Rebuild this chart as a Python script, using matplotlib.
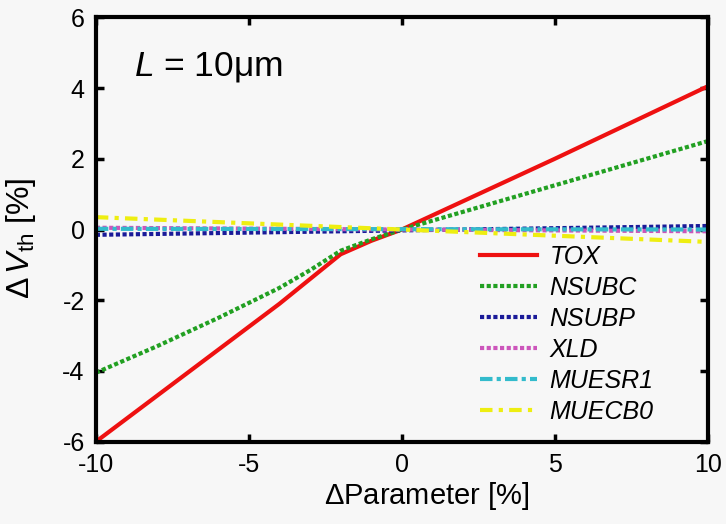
import matplotlib
matplotlib.use("Agg")
import matplotlib.pyplot as plt

plt.rcParams['font.family'] = ['Liberation Sans', 'DejaVu Sans']
plt.rcParams['mathtext.fontset'] = 'custom'
plt.rcParams['mathtext.rm'] = 'Liberation Sans'
plt.rcParams['mathtext.it'] = 'Liberation Sans:italic'
plt.rcParams['axes.unicode_minus'] = False

# data
x_pts = [-10, -8, -6, -4, -3, -2, -1, 0, 5, 10]
tox = [-6.0, -4.7, -3.4, -2.1, -1.4, -0.7, -0.32, 0.0, 2.0, 4.05]
nsubc = [-4.05, -3.3, -2.5, -1.65, -1.15, -0.6, -0.28, 0.0, 1.25, 2.5]
x_flat = [-10, 10]
nsubp = [-0.15, 0.1]
xld = [0.05, -0.05]
muesr1 = [0.02, 0.0]
muecb0 = [0.35, -0.35]

labels = ['TOX', 'NSUBC', 'NSUBP', 'XLD', 'MUESR1', 'MUECB0']

bg = '#f7f7f7'
fig = plt.figure(figsize=(7.26, 5.24), dpi=100, facecolor=bg)
ax = fig.add_axes([0.132, 0.157, 0.843, 0.81], facecolor=bg)

ax.plot(x_pts, tox, color='#ee1111', lw=3, ls='-', label=labels[0])
ax.plot(x_pts, nsubc, color='#22a022', lw=3, ls=(0, (1, 0.6)), label=labels[1])
ax.plot(x_flat, nsubp, color='#1a1a99', lw=3, ls=(0, (1, 0.6)), label=labels[2])
ax.plot(x_flat, xld, color='#cc55bb', lw=3, ls=(0, (1, 0.6)), label=labels[3])
ax.plot(x_flat, muesr1, color='#33bbcc', lw=3, ls=(0, (3, 1, 1, 1)), label=labels[4])
ax.plot(x_flat, muecb0, color='#eeee11', lw=3, ls=(0, (3, 1.5, 1, 1.5)), label=labels[5])

ax.set_xlim(-10, 10)
ax.set_ylim(-6, 6)
ax.set_xticks([-10, -5, 0, 5, 10])
ax.set_yticks([-6, -4, -2, 0, 2, 4, 6])
ax.tick_params(direction='in', length=6, width=2.5, labelsize=18, pad=8,
               top=True, right=True)
for s in ax.spines.values():
    s.set_linewidth(3)

ax.set_xlabel(r'$\Delta$Parameter [%]', fontsize=21, labelpad=2)
ax.xaxis.set_label_coords(0.54, -0.09)
ax.set_ylabel(r'$\Delta\,V_{\mathrm{th}}$ [%]', fontsize=23, labelpad=2)
ax.yaxis.set_label_coords(-0.095, 0.48)

ax.text(-8.75, 4.35, r'$L$ = 10$\mathrm{\mu}$m', fontsize=25.5)

leg = ax.legend(loc='lower right', frameon=False, fontsize=18, handlelength=2.3,
                handletextpad=0.5, labelspacing=0.28, borderaxespad=0.3,
                bbox_to_anchor=(0.94, 0.0))
for t in leg.get_texts():
    t.set_fontstyle('italic')

fig.savefig('out.png', dpi=100, facecolor=bg)
